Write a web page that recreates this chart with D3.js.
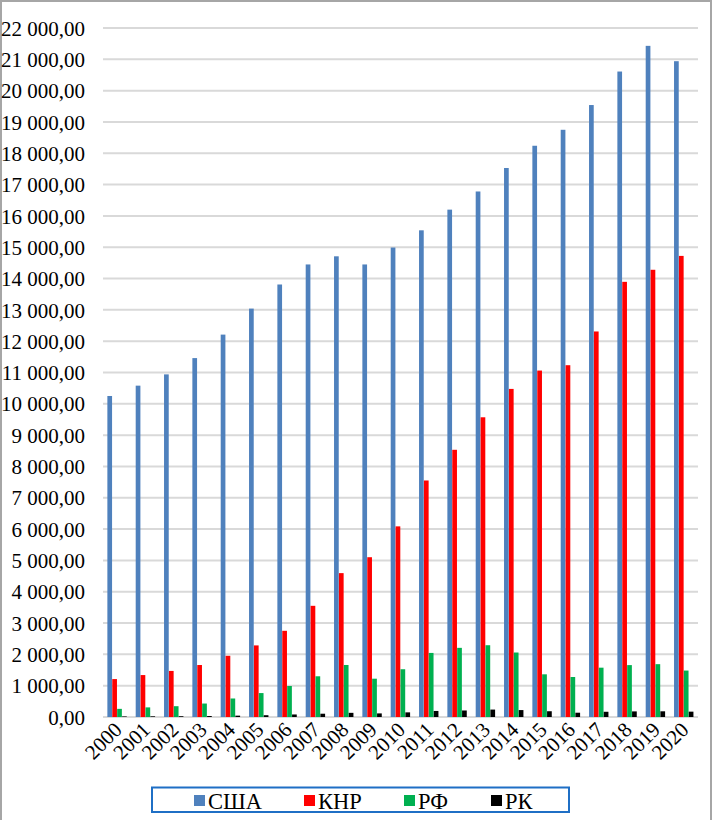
<!DOCTYPE html>
<html><head><meta charset="utf-8">
<script src="https://cdn.jsdelivr.net/npm/d3@7"></script>
<style>html,body{margin:0;padding:0;background:#fff;} svg text{font-family:"Liberation Serif","Times New Roman",serif !important;}</style>
</head><body>
<svg id="c" width="713" height="820"></svg>
<script>
const years = ["2000","2001","2002","2003","2004","2005","2006","2007","2008","2009","2010","2011","2012","2013","2014","2015","2016","2017","2018","2019","2020"];
const usa = [10250,10580,10940,11460,12210,13040,13810,14450,14710,14450,14990,15540,16200,16780,17530,18240,18750,19540,20610,21430,20940];
const china = [1211,1339,1471,1660,1955,2286,2752,3550,4594,5102,6087,7552,8532,9570,10476,11062,11233,12310,13895,14280,14723];
const russia = [260,307,345,430,591,764,990,1300,1661,1223,1525,2046,2208,2292,2059,1363,1277,1575,1657,1687,1483];
const kazakhstan = [18,22,25,31,43,57,81,105,133,115,148,193,208,237,221,184,137,167,179,182,171];
const seriesNames = ["США","КНР","РФ","РК"];
const seriesColors = ["#4F81BD","#FF0000","#00B050","#000000"];
const yTicks = d3.range(0, 22001, 1000);

const series = [usa, china, russia, kazakhstan];
const svg = d3.select("#c");

// outer frame
svg.append("rect").attr("x",1).attr("y",1).attr("width",710).attr("height",830)
  .attr("fill","none").attr("stroke","#a6a6a6").attr("stroke-width",2);

const x0 = d3.scaleBand().domain(years).range([103, 698]).paddingInner(0).paddingOuter(0);
const x1 = d3.scaleBand().domain(seriesNames).range([0, 19.6]);
const groupOffset = (x0.bandwidth() - 19.6) / 2;
const y = d3.scaleLinear().domain([0, 22000]).range([717, 28]);

const fmt = v => {
  const s = d3.format(",.2f")(v);
  return s.replace(/,/g, " ").replace(".", ",");
};

// gridlines
svg.append("g").selectAll("line").data(yTicks).join("line")
  .attr("x1", 103).attr("x2", 698)
  .attr("y1", d => y(d)).attr("y2", d => y(d))
  .attr("stroke", "#d9d9d9").attr("stroke-width", 2);

// y axis labels
const yAxis = d3.axisLeft(y).tickValues(yTicks).tickFormat(fmt).tickSize(0).tickPadding(0);
const ya = svg.append("g").attr("transform", "translate(85,0)").call(yAxis);
ya.select(".domain").remove();
ya.selectAll("text").attr("font-size", 21).attr("fill", "#000").attr("dy", "0.34em");

// bars
const g = svg.append("g");
years.forEach((yr, i) => {
  series.forEach((s, k) => {
    g.append("rect")
      .attr("x", x0(yr) + groupOffset + x1(seriesNames[k]))
      .attr("width", x1.bandwidth() - 0.2)
      .attr("y", y(s[i]))
      .attr("height", y(0) - y(s[i]))
      .attr("fill", seriesColors[k]);
  });
});

// x axis labels
const xAxis = d3.axisBottom(x0).tickSize(0).tickPadding(0);
const xa = svg.append("g").attr("transform", "translate(0,717)").call(xAxis);
xa.select(".domain").remove();
xa.selectAll("text")
  .attr("font-size", 21).attr("fill", "#000")
  .attr("text-anchor", "end")
  .attr("dy", null).attr("y", 0)
  .attr("transform", "translate(6,14) rotate(-45)");

// legend
svg.append("rect").attr("x", 152).attr("y", 787.5).attr("width", 417).attr("height", 24.5)
  .attr("fill", "#fff").attr("stroke", "#1F6FC5").attr("stroke-width", 2);
const legX = [194, 304, 404, 491];
seriesNames.forEach((n, k) => {
  svg.append("rect").attr("x", legX[k]).attr("y", 795).attr("width", 11).attr("height", 11).attr("fill", seriesColors[k]);
  svg.append("text").attr("x", legX[k] + 14).attr("y", 809).attr("font-size", 22.5)
    .attr("fill", "#000").text(n);
});
</script>
</body></html>
